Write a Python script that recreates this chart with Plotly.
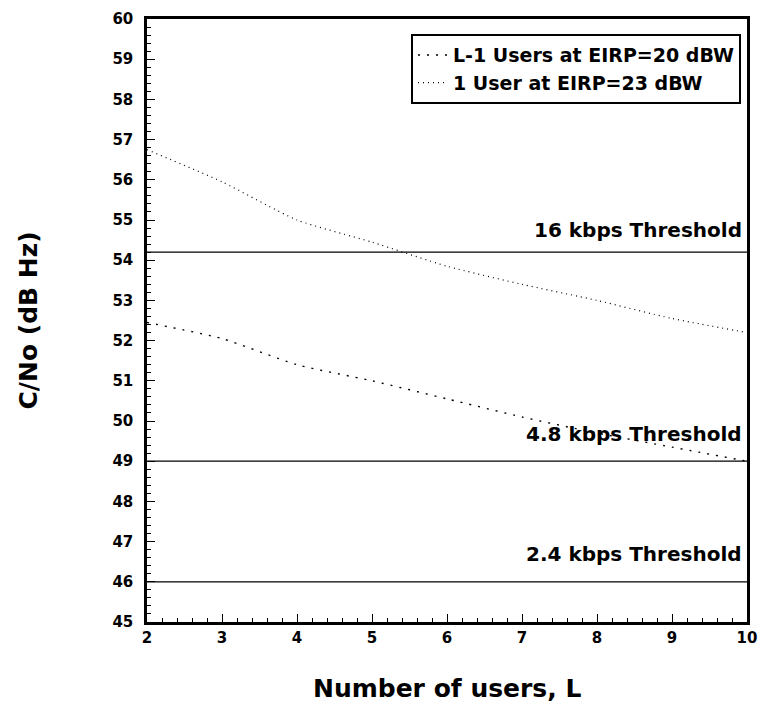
import plotly.graph_objects as go

# Number of users L
users = [2, 3, 4, 5, 6, 7, 8, 9, 10]
# C/No for the L-1 interfering users at EIRP = 20 dBW
cno_l_minus_1 = [52.45, 52.05, 51.4, 51.0, 50.55, 50.1, 49.7, 49.35, 49.0]
# C/No for the single user at EIRP = 23 dBW
cno_one_user = [56.75, 55.95, 55.0, 54.45, 53.85, 53.4, 53.0, 52.55, 52.2]

# Data-rate thresholds (dB Hz)
threshold_names = ["16 kbps Threshold", "4.8 kbps Threshold", "2.4 kbps Threshold"]
threshold_values = [54.2, 49.0, 46.0]
label_offsets = [0.55, 0.68, 0.7]

FONT = "DejaVu Sans, Liberation Sans, Arial, sans-serif"

fig = go.Figure()

fig.add_trace(go.Scatter(
    x=users, y=cno_l_minus_1, mode="lines",
    name="L-1 Users at EIRP=20 dBW",
    line=dict(color="black", width=1.4, dash="2px,7px", shape="spline", smoothing=0.6),
))
fig.add_trace(go.Scatter(
    x=users, y=cno_one_user, mode="lines",
    name="1 User at EIRP=23 dBW",
    line=dict(color="black", width=1.2, dash="1px,4px", shape="spline", smoothing=0.6),
))

for name, val, off in zip(threshold_names, threshold_values, label_offsets):
    fig.add_trace(go.Scatter(
        x=[users[0], users[-1]], y=[val, val], mode="lines",
        line=dict(color="black", width=1.3), showlegend=False, hoverinfo="skip",
    ))
    fig.add_annotation(
        x=users[-1], y=val + off, xref="x", yref="y", text=name,
        showarrow=False, xanchor="right", yanchor="middle", xshift=-3,
        font=dict(family=FONT, size=20, color="black", weight="bold"),
    )

# Axis titles
fig.add_annotation(
    x=0.5, y=0, xref="paper", yref="paper", yshift=-66, yanchor="middle",
    text="Number of users, L", showarrow=False,
    font=dict(family=FONT, size=25, color="black", weight="bold"),
)
fig.add_annotation(
    x=0, y=0.5, xref="paper", yref="paper", xshift=-119, xanchor="center",
    text="C/No (dB Hz)", showarrow=False, textangle=-90,
    font=dict(family=FONT, size=25, color="black", weight="bold"),
)

axis_common = dict(
    showline=True, linecolor="black", linewidth=2.5, mirror=True,
    ticks="inside", ticklen=8, tickwidth=1.3, tickcolor="black",
    showgrid=False, zeroline=False,
    tickfont=dict(family=FONT, size=15, color="black", weight="bold"),
)

fig.update_xaxes(
    range=[2, 10], dtick=1, tick0=2,
    minor=dict(ticks="inside", ticklen=4, dtick=0.2, tickcolor="black", tickwidth=1),
    **axis_common,
)
fig.update_yaxes(
    range=[45, 60], dtick=1, tick0=45,
    minor=dict(ticks="inside", ticklen=4, dtick=0.2, tickcolor="black", tickwidth=1),
    ticklabelstandoff=8,
    **axis_common,
)

fig.update_layout(
    width=767, height=705,
    margin=dict(l=147, r=10, t=16, b=83),
    paper_bgcolor="white", plot_bgcolor="white",
    legend=dict(
        x=0.99, y=0.975, xanchor="right", yanchor="top",
        bgcolor="white", bordercolor="black", borderwidth=2,
        font=dict(family=FONT, size=19, color="black", weight="bold"),
        itemwidth=30, tracegroupgap=0,
    ),
)

fig.write_html("out.html")
